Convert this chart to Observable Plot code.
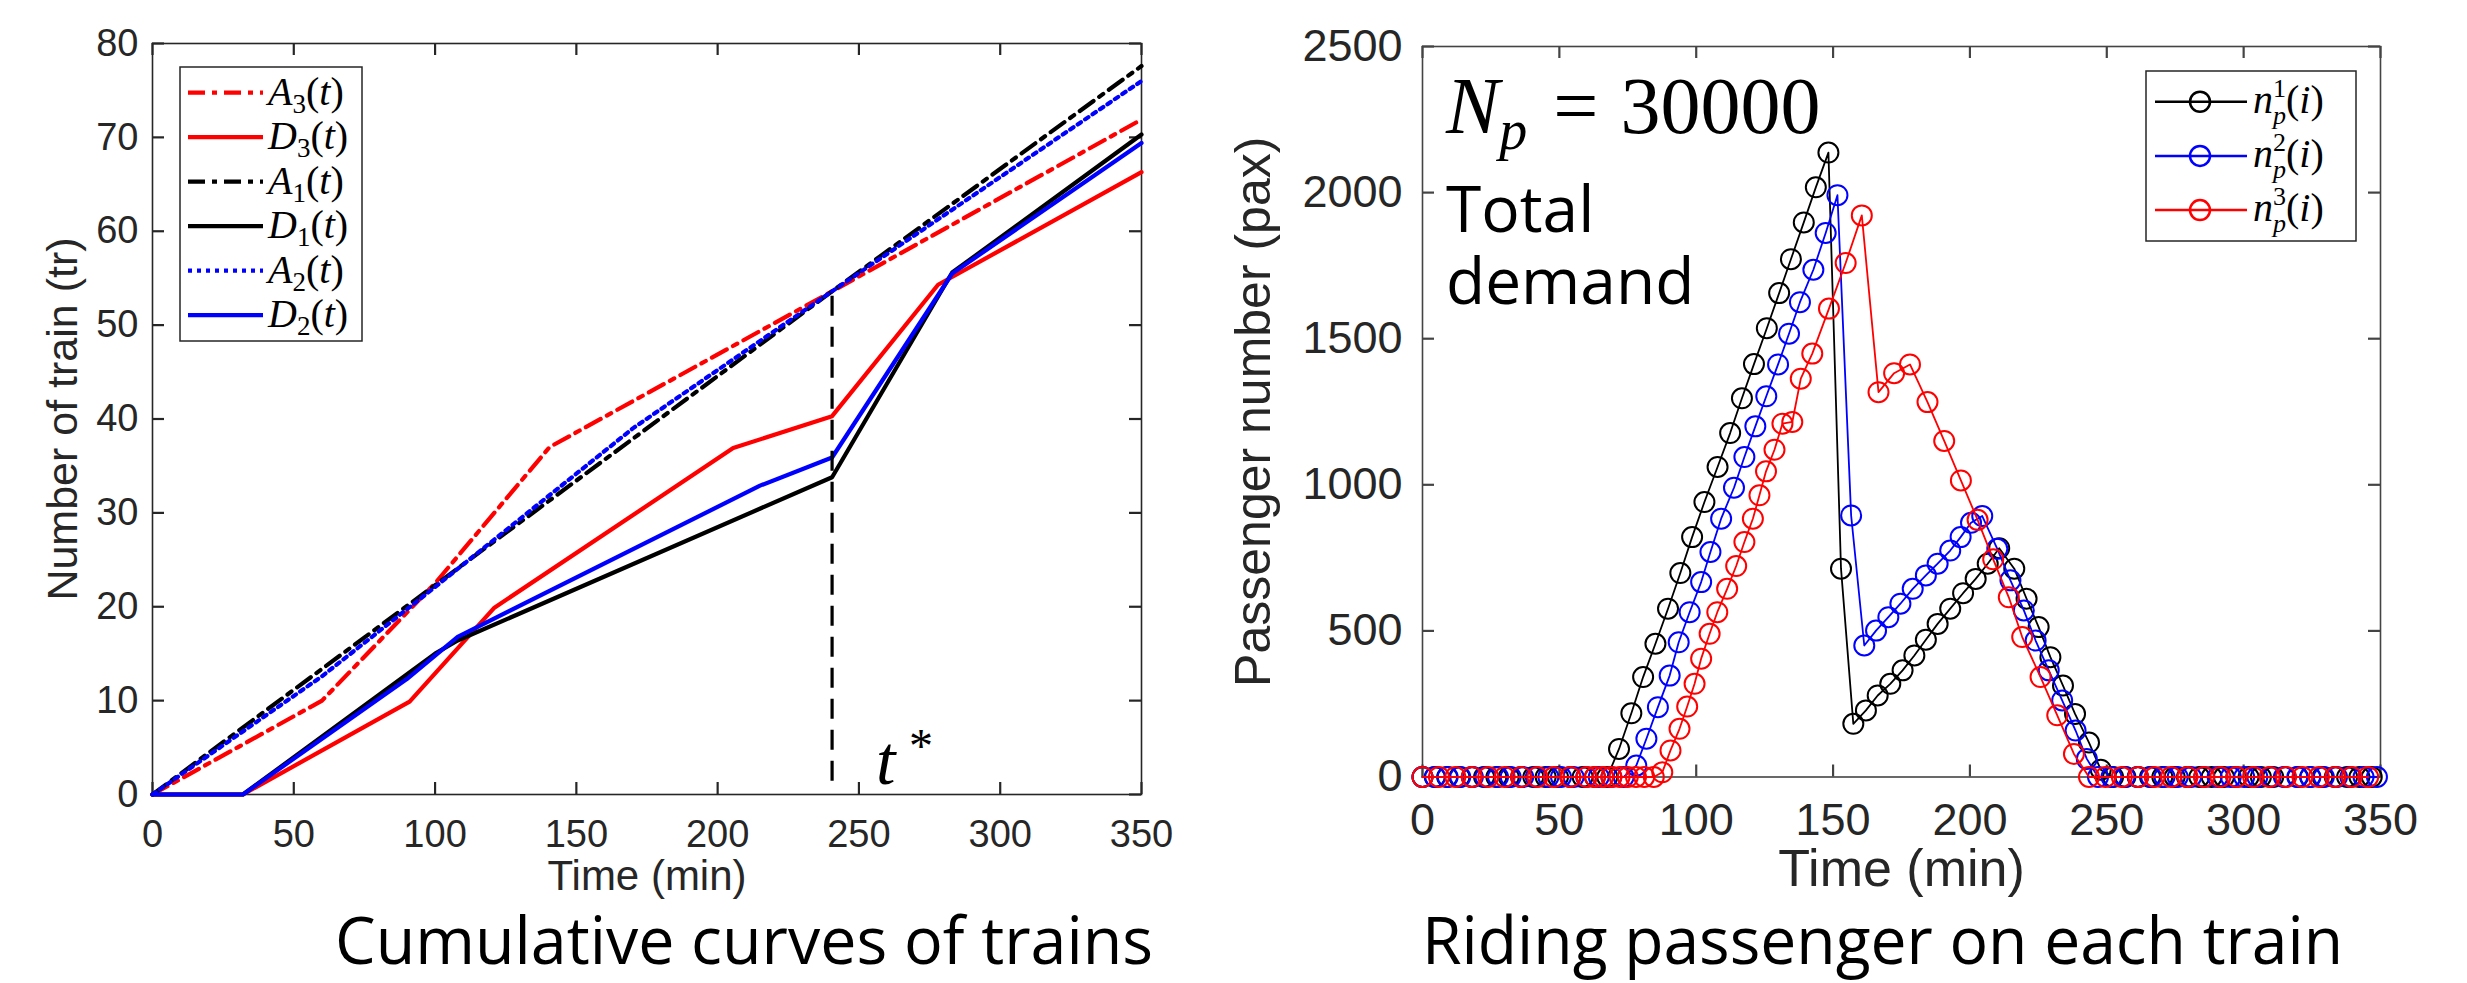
<!DOCTYPE html>
<html><head><meta charset="utf-8">
<script src="https://cdn.jsdelivr.net/npm/d3@7"></script>
<script src="https://cdn.jsdelivr.net/npm/@observablehq/plot@0.6"></script>
<style>
html,body{margin:0;padding:0;background:#fff;}
#root{position:relative;width:2467px;height:983px;overflow:hidden;background:#fff;}
#root svg{position:absolute;top:0;}
</style></head><body><div id="root"></div>
<script>
// ---------- Left chart: cumulative curves of trains ----------
const xTicksLeft = [0, 50, 100, 150, 200, 250, 300, 350];
const yTicksLeft = [0, 10, 20, 30, 40, 50, 60, 70, 80];
const A3_t = [0, 30, 60, 100, 140.5, 240.5, 350];
const A3_v = [0, 5.0, 10.0, 22.5, 37.0, 53.6, 71.9];
const D3_t = [0, 32, 91, 121, 205.5, 240.5, 278, 350];
const D3_v = [0, 0, 9.9, 19.9, 36.9, 40.3, 54.3, 66.3];
const A1_t = [0, 100, 240.5, 350];
const A1_v = [0, 22.3, 53.6, 77.6];
const D1_t = [0, 32, 100, 108, 240.5, 283, 350];
const D1_v = [0, 0, 15.0, 16.4, 33.8, 55.6, 70.3];
const A2_t = [0, 60, 100, 170, 240.5, 350];
const A2_v = [0, 12.6, 22.1, 39.0, 53.6, 76.0];
const D2_t = [0, 32, 90, 108, 215, 240.5, 283, 350];
const D2_v = [0, 0, 12.3, 16.8, 32.9, 35.9, 55.5, 69.4];
const tStarLineX = [240.5];
const tStarLineY = [1.4, 53.6];
const tStarLabelX = [256];
const tStarLabelY = [1.1];

// ---------- Right chart: riding passengers on each train ----------
const xTicksRight = [0, 50, 100, 150, 200, 250, 300, 350];
const yTicksRight = [0, 500, 1000, 1500, 2000, 2500];
const n1T = [0,4.5,9,13.5,18,22.5,27,31.5,36,40.5,45,49.5,54,58.5,63,67.5,
  71.8,76.3,80.6,85.1,89.7,94.2,98.5,103,107.8,112.4,116.7,121.1,125.8,130.3,134.6,139.3,143.7,148.3,
  152.9,157.4,162,166.3,170.9,175.4,179.7,183.9,188.2,192.8,197.5,202.1,206.5,210.7,
  216.2,220.7,225.1,229.4,234,238.4,243.5,247.8,
  252.3,256.8,261.3,265.8,270.3,274.8,279.3,283.8,288.3,292.8,297.3,301.8,306.3,310.8,315.3,319.8,324.3,328.8,333.3,337.8,342.3,346.8];
const n1V = [0,0,0,0,0,0,0,0,0,0,0,0,0,0,0,0,
  96,218,342,456,576,698,821,941,1061,1177,1296,1413,1536,1656,1772,1898,2018,2137,
  713,182,228,279,319,365,416,470,524,576,629,678,730,783,
  713,610,513,410,313,216,118,25,
  0,0,0,0,0,0,0,0,0,0,0,0,0,0,0,0,0,0,0,0,0,0];
const n2T = [0,4.6,9.2,13.8,18.4,23,27.6,32.2,36.8,41.4,46,50.6,55.2,59.8,64.4,69,73.5,
  78.1,81.8,86,90.3,93.6,97.6,101.8,105.2,109.1,113.8,117.6,121.6,125.6,129.9,133.9,137.9,142.8,147.3,151.6,
  156.6,161.4,165.7,170.2,174.6,179.1,183.9,188.2,192.8,196.6,200.4,204.5,
  210,214.8,219.7,224,228.8,233.7,238.6,242.7,
  246.8,251.7,256.5,261.4,266.2,271.1,275.9,280.8,285.6,290.5,295.3,300.2,305,309.9,314.7,319.6,324.4,329.3,334.1,339,343.8,348.7];
const n2V = [0,0,0,0,0,0,0,0,0,0,0,0,0,0,0,0,0,
  39,131,239,347,461,564,667,770,884,990,1095,1200,1303,1412,1517,1625,1736,1862,1991,
  895,450,501,547,593,644,690,730,775,821,870,893,
  781,673,570,467,365,262,159,62,
  0,0,0,0,0,0,0,0,0,0,0,0,0,0,0,0,0,0,0,0,0,0];
const n3T = [0,6,12,18,24,30,36,42,48,54,60,63,66,69,72,75,78,81,84.5,
  87.6,90.6,93.9,96.7,99.4,101.8,104.9,107.7,111.3,114.6,117.6,120.7,123.1,125.5,128.6,131.5,135.1,138.2,142.4,148.5,154.6,160.5,
  166.6,172.3,178.1,184.5,190.6,196.7,202.8,208.5,214.2,219.1,225.8,231.9,238,
  243.5,249.5,255.5,261.5,267.5,273.5,279.5,285.5,291.5,297.5,303.5,309.5,315.5,321.5,327.5,333.5,339.5,345.5];
const n3V = [0,0,0,0,0,0,0,0,0,0,0,0,0,0,0,0,0,0,0,
  16,91,165,241,319,405,490,564,644,722,804,884,964,1046,1120,1209,1215,1363,1449,1603,1759,1922,
  1317,1382,1412,1283,1150,1015,880,745,615,479,342,211,79,
  0,0,0,0,0,0,0,0,0,0,0,0,0,0,0,0,0,0];

const rows = (T, V) => T.map((t, i) => ({t, v: V[i]}));

const RED = "#ff0000", BLUE = "#0000ff", BLACK = "#000000";
const DASHDOT = "17,7,5,7", DOT = "4,5";
const leftSeries = [
  {letter: "A", sub: "3", T: A3_t, V: A3_v, color: RED, dash: DASHDOT},
  {letter: "D", sub: "3", T: D3_t, V: D3_v, color: RED, dash: null},
  {letter: "A", sub: "1", T: A1_t, V: A1_v, color: BLACK, dash: DASHDOT},
  {letter: "D", sub: "1", T: D1_t, V: D1_v, color: BLACK, dash: null},
  {letter: "A", sub: "2", T: A2_t, V: A2_v, color: BLUE, dash: DOT},
  {letter: "D", sub: "2", T: D2_t, V: D2_v, color: BLUE, dash: null}
];
const rightSeries = [
  {sup: "1", T: n1T, V: n1V, color: BLACK},
  {sup: "2", T: n2T, V: n2V, color: BLUE},
  {sup: "3", T: n3T, V: n3V, color: RED}
];

const H = 983;
const baseStyle = {fontFamily: "'Liberation Sans', Arial, Helvetica, sans-serif", color: "#262626", background: "transparent", overflow: "visible"};

// inward ticks on all four sides (MATLAB box style), drawn as short rules
function inwardTicks(xt, yt, innerW, innerH, color) {
  const len = 12, c = {stroke: color, strokeWidth: 2.2};
  return [
    Plot.ruleX(xt, {x: d => d, insetTop: innerH - len, ...c}),
    Plot.ruleX(xt, {x: d => d, insetBottom: innerH - len, ...c}),
    Plot.ruleY(yt, {y: d => d, insetRight: innerW - len, ...c}),
    Plot.ruleY(yt, {y: d => d, insetLeft: innerW - len, ...c})
  ];
}

const leftW = 1230;
const L = {ml: 152, mr: leftW - 1141, mt: 43, mb: H - 794};
const left = Plot.plot({
  width: leftW, height: H,
  marginLeft: L.ml, marginRight: L.mr, marginTop: L.mt, marginBottom: L.mb,
  x: {domain: [0, 350]},
  y: {domain: [0, 80]},
  style: {...baseStyle, fontSize: "38px"},
  marks: [
    Plot.frame({stroke: "#262626", strokeWidth: 1.6}),
    ...inwardTicks(xTicksLeft, yTicksLeft, leftW - L.ml - L.mr, H - L.mt - L.mb, "#262626"),
    Plot.axisX(xTicksLeft, {anchor: "bottom", tickSize: 0, tickPadding: 26, label: null, fontSize: 38, tickFormat: d => String(d)}),
    Plot.axisY(yTicksLeft, {anchor: "left", tickSize: 0, tickPadding: 14, label: null, fontSize: 38, tickFormat: d => String(d)}),
    ...leftSeries.map(s => Plot.line(rows(s.T, s.V), {x: "t", y: "v", stroke: s.color, strokeWidth: 4.2, strokeDasharray: s.dash, strokeLinejoin: "round"})),
    Plot.ruleX(tStarLineX, {x: d => d, y1: tStarLineY[0], y2: tStarLineY[1], stroke: BLACK, strokeWidth: 3.2, strokeDasharray: "20,11"}),
    Plot.text(tStarLabelX.map((x, i) => ({x, y: tStarLabelY[i]})), {x: "x", y: "y", text: () => "t", textAnchor: "start", lineAnchor: "bottom", fontFamily: "'Liberation Serif', serif", fontStyle: "italic", fontSize: 70, fill: BLACK}),
    Plot.text(tStarLabelX.map((x, i) => ({x, y: tStarLabelY[i]})), {x: "x", y: "y", text: () => "*", textAnchor: "start", lineAnchor: "bottom", dx: 33, dy: -22, fontFamily: "'Liberation Serif', serif", fontSize: 48, fill: BLACK}),
    Plot.text(["Time (min)"], {text: d => d, frameAnchor: "bottom", textAnchor: "middle", dy: 95, fontSize: 42, fill: "#262626"}),
    Plot.text(["Number of train (tr)"], {text: d => d, frameAnchor: "left", textAnchor: "middle", dx: -89, rotate: -90, fontSize: 43, fill: "#262626"})
  ]
});

const rightW = 1237, rightX = 1230;
const R = {ml: 1422 - rightX, mr: 2467 - 2380, mt: 46, mb: H - 776.5};
const right = Plot.plot({
  width: rightW, height: H,
  marginLeft: R.ml, marginRight: R.mr, marginTop: R.mt, marginBottom: R.mb,
  x: {domain: [0, 350]},
  y: {domain: [0, 2500]},
  style: {...baseStyle, fontSize: "45px"},
  marks: [
    Plot.frame({stroke: "#444", strokeWidth: 1.6}),
    ...inwardTicks(xTicksRight, yTicksRight, rightW - R.ml - R.mr, H - R.mt - R.mb, "#444"),
    Plot.axisX(xTicksRight, {anchor: "bottom", tickSize: 0, tickPadding: 26, label: null, fontSize: 45, tickFormat: d => String(d)}),
    Plot.axisY(yTicksRight, {anchor: "left", tickSize: 0, tickPadding: 20, label: null, fontSize: 45, tickFormat: d => String(d)}),
    ...rightSeries.flatMap(s => [
      Plot.line(rows(s.T, s.V), {x: "t", y: "v", stroke: s.color, strokeWidth: 1.8}),
      Plot.dot(rows(s.T, s.V), {x: "t", y: "v", r: 10, stroke: s.color, strokeWidth: 2, fill: "none"})
    ]),
    Plot.text(["Time (min)"], {text: d => d, frameAnchor: "bottom", textAnchor: "middle", dy: 109, fontSize: 52, fill: "#262626"}),
    Plot.text(["Passenger number (pax)"], {text: d => d, frameAnchor: "left", textAnchor: "middle", dx: -169, rotate: -90, fontSize: 50, fill: "#262626"})
  ]
});

const root = document.getElementById("root");
left.style.left = "0px";
right.style.left = rightX + "px";
root.appendChild(left);
root.appendChild(right);

// ---------- Overlay: legends, annotations, captions ----------
const ov = d3.create("svg").attr("width", 2467).attr("height", H).style("left", "0px").style("top", "0px");
const serif = "'Liberation Serif', 'DejaVu Serif', serif";

// left legend
const gl = ov.append("g");
gl.append("rect").attr("x", 180).attr("y", 67).attr("width", 182).attr("height", 274)
  .attr("fill", "#fff").attr("stroke", "#262626").attr("stroke-width", 1.5);
leftSeries.forEach((s, i) => {
  const cy = 92.7 + i * 44.5;
  gl.append("line").attr("x1", 188).attr("x2", 263).attr("y1", cy).attr("y2", cy)
    .attr("stroke", s.color).attr("stroke-width", 4.2).attr("stroke-dasharray", s.dash);
  const t = gl.append("text").attr("x", 268).attr("y", cy + 12).attr("font-family", serif).attr("font-size", 40).attr("fill", "#000");
  t.append("tspan").attr("font-style", "italic").text(s.letter);
  t.append("tspan").attr("font-size", 27).attr("dy", 8).text(s.sub);
  t.append("tspan").attr("dy", -8).text("(");
  t.append("tspan").attr("font-style", "italic").text("t");
  t.append("tspan").text(")");
});

// right legend
const gr = ov.append("g");
gr.append("rect").attr("x", 2146).attr("y", 71).attr("width", 210).attr("height", 170)
  .attr("fill", "#fff").attr("stroke", "#262626").attr("stroke-width", 1.5);
rightSeries.forEach((s, i) => {
  const cy = 101.7 + i * 54.2;
  gr.append("line").attr("x1", 2155).attr("x2", 2247).attr("y1", cy).attr("y2", cy)
    .attr("stroke", s.color).attr("stroke-width", 2.5);
  gr.append("circle").attr("cx", 2200).attr("cy", cy).attr("r", 10).attr("fill", "none")
    .attr("stroke", s.color).attr("stroke-width", 2.5);
  const t = gr.append("text").attr("x", 2253).attr("y", cy + 11).attr("font-family", serif).attr("font-size", 40).attr("fill", "#000");
  t.append("tspan").attr("font-style", "italic").text("n");
  t.append("tspan").attr("font-size", 26).attr("dy", -16).text(s.sup);
  t.append("tspan").attr("font-size", 26).attr("font-style", "italic").attr("dx", -13).attr("dy", 27).text("p");
  t.append("tspan").attr("dy", -11).text("(");
  t.append("tspan").attr("font-style", "italic").text("i");
  t.append("tspan").text(")");
});

// right annotations
const np = ov.append("text").attr("x", 1446).attr("y", 133).attr("font-family", serif).attr("font-size", 80).attr("fill", "#000");
np.append("tspan").attr("font-style", "italic").text("N");
np.append("tspan").attr("font-style", "italic").attr("font-size", 56).attr("dy", 16).text("p");
np.append("tspan").attr("dy", -16).attr("dx", 26).text("=");
np.append("tspan").attr("dx", 22).text("30000");
ov.append("text").attr("x", 1446).attr("y", 232).attr("font-family", "'Open Sans', sans-serif").attr("font-size", 64).attr("fill", "#000").text("Total");
ov.append("text").attr("x", 1446).attr("y", 304).attr("font-family", "'Open Sans', sans-serif").attr("font-size", 64).attr("fill", "#000").text("demand");

// captions
ov.append("text").attr("x", 335).attr("y", 964).attr("font-family", "'Open Sans', sans-serif").attr("font-size", 66)
  .attr("textLength", 818).attr("lengthAdjust", "spacingAndGlyphs").attr("fill", "#000").text("Cumulative curves of trains");
ov.append("text").attr("x", 1422).attr("y", 964).attr("font-family", "'Open Sans', sans-serif").attr("font-size", 66)
  .attr("textLength", 921).attr("lengthAdjust", "spacingAndGlyphs").attr("fill", "#000").text("Riding passenger on each train");

root.appendChild(ov.node());
</script></body></html>
